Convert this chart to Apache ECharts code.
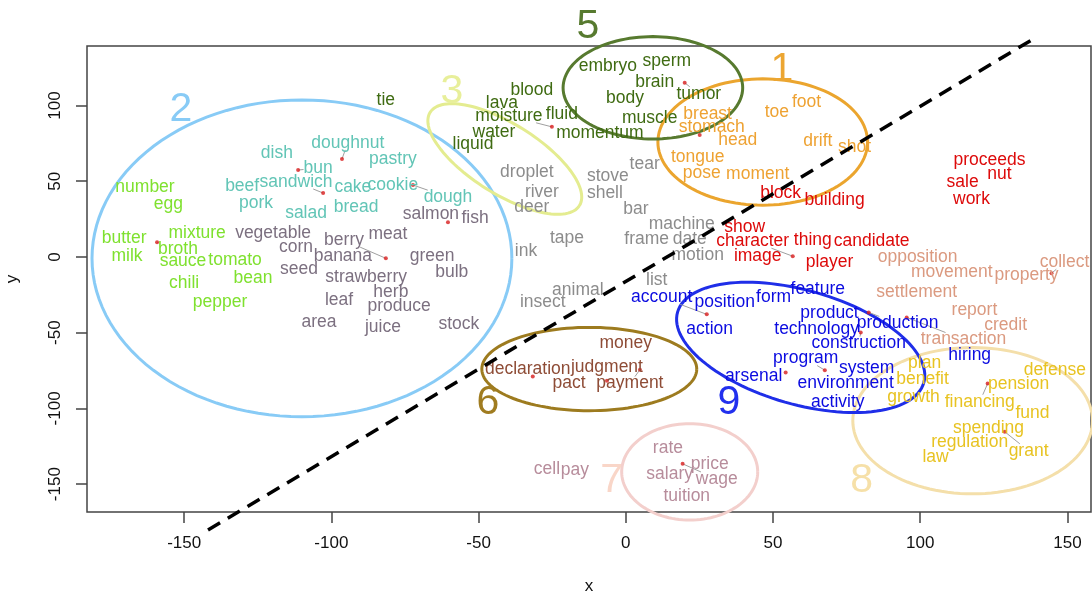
<!DOCTYPE html>
<html><head><meta charset="utf-8">
<script src="https://cdn.jsdelivr.net/npm/echarts@6/dist/echarts.min.js"></script>
<style>html,body{margin:0;padding:0;background:#fff}#c{width:1092px;height:594px}</style>
</head><body><div id="c"></div>
<script>
// ---------- data ----------
const xTicks = [-150, -100, -50, 0, 50, 100, 150];
const yTicks = [-150, -100, -50, 0, 50, 100];

const seasoningWords = [['number',-163.3,46.2],['egg',-155.4,34.9],['butter',-170.4,12.4],['milk',-169.4,0.5],['mixture',-145.6,15.7],['broth',-152.1,5.1],['sauce',-150.4,-2.8],['tomato',-132.7,-2.2],['chili',-150.0,-17.4],['bean',-126.6,-14.1],['pepper',-137.8,-30.0]];
const bakeryWords = [['dish',-118.5,68.7],['doughnut',-94.4,75.3],['bun',-104.5,58.7],['pastry',-79.1,64.7],['beef',-130.3,46.8],['sandwich',-112.0,49.5],['cake',-92.7,46.2],['cookie',-79.1,47.5],['pork',-125.6,35.6],['bread',-91.6,32.9],['salad',-108.6,28.9],['dough',-60.4,39.5]];
const produceWords = [['vegetable',-119.8,15.7],['corn',-112.0,6.4],['berry',-95.7,11.1],['meat',-80.8,15.0],['banana',-96.1,0.5],['seed',-111.0,-8.1],['strawberry',-88.2,-13.4],['leaf',-97.4,-28.7],['herb',-79.8,-23.4],['produce',-77.0,-32.7],['area',-104.2,-43.2],['juice',-82.5,-46.6],['green',-65.8,0.5],['bulb',-59.1,-10.1],['salmon',-66.2,28.3],['fish',-51.2,25.6],['stock',-56.7,-44.6]];
const objectWords = [['droplet',-33.6,56.1],['river',-28.5,42.9],['deer',-31.9,32.9],['ink',-33.9,3.8],['tape',-20.0,12.4],['animal',-16.3,-22.1],['insect',-28.2,-30.0],['stove',-6.1,53.4],['shell',-7.1,42.2],['tear',6.4,61.4],['bar',3.4,31.6],['machine',19.0,21.7],['frame',7.1,11.7],['date',21.7,11.7],['motion',24.4,1.1],['list',10.5,-15.4]];
const bodyWords = [['tie',-81.5,103.8],['blood',-31.9,110.4],['lava',-42.1,101.8],['moisture',-39.7,93.2],['fluid',-21.7,94.5],['water',-44.8,82.6],['liquid',-51.9,74.6],['momentum',-8.8,81.9],['embryo',-6.1,126.3],['sperm',13.9,129.0],['brain',9.8,115.7],['tumor',24.8,107.8],['body',-0.3,105.1],['muscle',8.1,91.9]];
const limbWords = [['breast',27.8,94.5],['stomach',29.2,85.9],['head',38.0,77.3],['toe',51.3,95.8],['foot',61.4,102.5],['drift',65.2,76.6],['shot',77.7,72.7],['tongue',24.4,66.0],['pose',25.8,55.4],['moment',44.8,54.8]];
const roleWords = [['block',52.6,42.2],['building',70.9,37.6],['show',40.4,19.7],['character',43.1,10.4],['thing',63.5,11.1],['candidate',83.5,10.4],['image',44.8,0.5],['player',69.2,-3.5],['proceeds',123.5,64.0],['nut',126.9,54.8],['sale',114.4,49.5],['work',117.4,38.2]];
const propertyWords = [['opposition',99.1,-0.2],['movement',110.7,-10.1],['property',136.1,-12.1],['collect',149.0,-3.5],['settlement',98.8,-23.4],['report',118.4,-35.3],['credit',129.0,-45.2],['transaction',114.7,-54.5]];
const industryWords = [['account',12.2,-26.7],['position',33.6,-30.0],['form',50.2,-26.7],['feature',65.2,-21.4],['action',28.5,-47.9],['product',69.2,-37.3],['technology',64.8,-47.9],['production',92.3,-43.9],['construction',79.1,-57.2],['program',61.1,-67.1],['system',81.8,-73.7],['environment',74.7,-83.6],['arsenal',43.4,-79.0],['activity',72.0,-96.2],['hiring',116.8,-65.1]];
const legalWords = [['money',0.0,-57.2],['declaration',-33.3,-74.4],['judgment',-6.4,-73.0],['pact',-19.3,-83.6],['payment',1.4,-83.6]];
const financeWords = [['plan',101.5,-70.4],['benefit',100.8,-81.0],['growth',97.7,-92.9],['defense',145.7,-75.0],['pension',133.4,-84.3],['financing',120.2,-95.6],['fund',138.1,-102.9],['spending',123.2,-112.8],['regulation',116.8,-122.1],['grant',136.8,-128.0],['law',105.2,-132.0]];
const wageWords = [['rate',14.3,-126.0],['price',28.5,-136.6],['salary',14.9,-143.3],['wage',30.9,-146.6],['tuition',20.7,-157.8],['cell',-26.8,-139.9],['pay',-17.3,-140.6]];

// true point positions (red dots) and the label they belong to
const anchors = [[-159.2,9.7,'broth'],[-96.4,64.7,'doughnut'],[-111.3,57.4,'bun'],[-102.8,42.2,'sandwich'],[-72.3,47.5,'dough'],[-81.5,-0.9,'berry'],[-60.4,23.0,null],[-25.1,85.9,'moisture'],[20.0,115.0,'tumor'],[25.1,80.6,null],[56.7,0.5,'character'],[144.6,-10.8,'collect'],[95.4,-39.9,'transaction'],[27.5,-37.9,'account'],[82.5,-36.6,'production'],[79.8,-49.9,'construction'],[54.3,-76.3,null],[67.6,-74.8,'program'],[-31.6,-79.0,null],[-6.4,-81.7,null],[4.8,-74.4,'payment'],[122.9,-83.6,'financing'],[128.7,-115.4,'grant'],[19.3,-136.6,'wage']];

// clusters: centre x, centre y, radius x, radius y, tilt (deg)
const clusterNames = ['1','2','3','5','6','7','8','9'];
const clusterEllipses = [[46.5,75.9,35.6,41.7,0],[-110.0,-0.9,71.3,104.6,0],[-41.1,64.7,29.9,23.1,32],[9.2,111.7,30.5,33.8,0],[-12.4,-74.0,36.5,27.5,0],[21.7,-141.9,23.1,31.8,0],[117.8,-108.1,40.7,48.3,0],[59.4,-59.7,43.5,37.6,16]];
const clusterLabelPos = [[53.0,123.6],[-151.1,97.2],[-59.1,109.1],[-12.9,152.1],[-46.8,-96.2],[-4.8,-147.9],[80.1,-147.9],[35.0,-96.2]];

const divider = [[-141.9,-180.3],[139.0,144.6]];

// ---------- styling ----------
const FONT = "'Liberation Sans', Arial, Helvetica, sans-serif";
const WSIZE = 17.5;
const groups = [
  [seasoningWords,'#7fe12f'],[bakeryWords,'#62c5b6'],[produceWords,'#7c7080'],[objectWords,'#8c8c8c'],
  [bodyWords,'#3f6b12'],[limbWords,'#eea232'],[roleWords,'#dd0a0a'],[propertyWords,'#db9a80'],
  [industryWords,'#0b0be0'],[legalWords,'#8e4c36'],[financeWords,'#e8c322'],[wageWords,'#b78c9b']
];
const clusterColors = ['#eba52e','#88cbf6','#e4ec90','#577a2f','#9d7b1f','#f3cfcc','#f4dfaa','#1f2ee8'];
const clusterLabelColors = ['#eca632','#88cbf6','#e8ef9a','#577a2f','#a07c20','#f9d6c8','#f6e0a8','#2230ee'];

const words = [], wordColors = [], wordPos = {};
groups.forEach(([arr, col]) => arr.forEach(w => { words.push(w); wordColors.push(col); wordPos[w[0]] = [w[1], w[2]]; }));

const ctx = document.createElement('canvas').getContext('2d');
ctx.font = WSIZE + 'px ' + FONT;
const wordWidth = {};
words.forEach(w => { wordWidth[w[0]] = ctx.measureText(w[0]).width; });

const linkData = anchors.filter(a => a[2]).map(a => [a[0], a[1], wordPos[a[2]][0], wordPos[a[2]][1], a[2]]);

const chart = echarts.init(document.getElementById('c'), null, {renderer: 'canvas'});
chart.setOption({
  animation: false,
  backgroundColor: '#fff',
  grid: {left: 87, right: 1, top: 46, bottom: 82, show: true, borderColor: '#444', borderWidth: 1.5, backgroundColor: 'transparent', containLabel: false, outerBoundsMode: 'none'},
  xAxis: {
    type: 'value', min: -183, max: 158,
    name: 'x', nameLocation: 'middle', nameGap: 66,
    nameTextStyle: {fontFamily: FONT, fontSize: 17, color: '#111'},
    axisLine: {show: false, onZero: false},
    axisTick: {show: true, length: 11, customValues: xTicks, lineStyle: {color: '#444', width: 1.5}},
    axisLabel: {customValues: xTicks, fontFamily: FONT, fontSize: 17, color: '#111', margin: 23},
    splitLine: {show: false}
  },
  yAxis: {
    type: 'value', min: -168.4, max: 139.3,
    name: 'y', nameLocation: 'middle', nameGap: 66,
    nameTextStyle: {fontFamily: FONT, fontSize: 17, color: '#111'},
    axisLine: {show: false, onZero: false},
    axisTick: {show: true, length: 11, customValues: yTicks, lineStyle: {color: '#444', width: 1.5}},
    axisLabel: {customValues: yTicks, rotate: 90, fontFamily: FONT, fontSize: 17, color: '#111', margin: 23},
    splitLine: {show: false}
  },
  series: [
    { // ellipses
      type: 'custom', clip: false, z: 2, silent: true,
      data: clusterEllipses,
      renderItem(params, api) {
        const c = api.coord([api.value(0), api.value(1)]);
        const rx = api.size([api.value(2), 0])[0];
        const ry = api.size([0, api.value(3)])[1];
        const a = api.value(4) * Math.PI / 180;
        const pts = [];
        for (let k = 0; k <= 120; k++) {
          const t = k / 120 * 2 * Math.PI;
          const ex = rx * Math.cos(t), ey = ry * Math.sin(t);
          pts.push([c[0] + ex * Math.cos(a) - ey * Math.sin(a), c[1] + ex * Math.sin(a) + ey * Math.cos(a)]);
        }
        return {type: 'polyline', shape: {points: pts}, style: {fill: null, stroke: clusterColors[params.dataIndex], lineWidth: 3}};
      }
    },
    { // cluster numbers
      type: 'custom', clip: false, z: 3, silent: true,
      data: clusterLabelPos,
      renderItem(params, api) {
        const p = api.coord([api.value(0), api.value(1)]);
        return {type: 'text', x: p[0], y: p[1], style: {text: clusterNames[params.dataIndex], fill: clusterLabelColors[params.dataIndex], font: '41px ' + FONT, align: 'center', verticalAlign: 'middle'}};
      }
    },
    { // leader lines
      type: 'custom', clip: false, z: 4, silent: true,
      data: linkData,
      renderItem(params, api) {
        const p = api.coord([api.value(0), api.value(1)]);
        const c = api.coord([api.value(2), api.value(3)]);
        const hw = wordWidth[linkData[params.dataIndex][4]] / 2, hh = 7;
        const dx = p[0] - c[0], dy = p[1] - c[1];
        let s = Math.min(dx ? hw / Math.abs(dx) : Infinity, dy ? hh / Math.abs(dy) : Infinity);
        if (s > 1) s = 1;
        return {type: 'line', shape: {x1: p[0], y1: p[1], x2: c[0] + dx * s, y2: c[1] + dy * s}, style: {stroke: '#a0a0a0', lineWidth: 1}};
      }
    },
    { // red dots
      type: 'scatter', z: 5, silent: true, symbolSize: 4,
      itemStyle: {color: '#d81e1e'},
      data: anchors.map(a => [a[0], a[1]])
    },
    { // words
      type: 'custom', clip: false, z: 6, silent: true,
      data: words.map(w => [w[1], w[2]]),
      renderItem(params, api) {
        const p = api.coord([api.value(0), api.value(1)]);
        return {type: 'text', x: p[0], y: p[1], style: {text: words[params.dataIndex][0], fill: wordColors[params.dataIndex], font: WSIZE + 'px ' + FONT, align: 'center', verticalAlign: 'middle'}};
      }
    },
    { // dashed divider
      type: 'line', clip: false, z: 8, silent: true, symbol: 'none',
      data: divider,
      lineStyle: {color: '#000', width: 3.5, type: [14, 9]}
    }
  ]
});
</script>
</body></html>
